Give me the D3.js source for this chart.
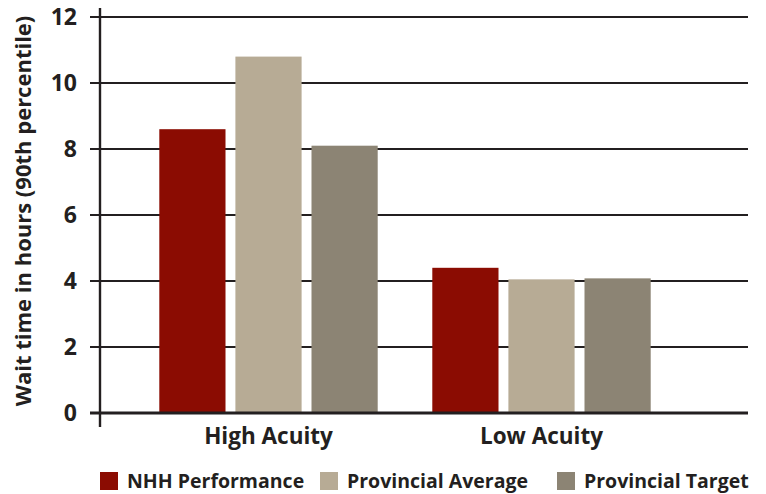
<!DOCTYPE html>
<html>
<head>
<meta charset="utf-8">
<script src="https://cdn.jsdelivr.net/npm/d3@7"></script>
<style>
  body { margin: 0; background: #fff; }
  text { font-family: "Open Sans", sans-serif; font-weight: 700; fill: #231f20; }
</style>
</head>
<body>
<div id="app"></div>
<script>
const categories = ["High Acuity", "Low Acuity"];
const seriesNames = ["NHH Performance", "Provincial Average", "Provincial Target"];
const nhhPerformance = [8.6, 4.4];
const provincialAverage = [10.8, 4.05];
const provincialTarget = [8.1, 4.08];
const yTicks = [0, 2, 4, 6, 8, 10, 12];
const colors = ["#8b0c02", "#b7ab95", "#8c8474"];

const width = 766;
const height = 494;

const dataset = categories.map((c, i) => ({
  category: c,
  values: [nhhPerformance[i], provincialAverage[i], provincialTarget[i]]
}));

const svg = d3
  .select("#app")
  .append("svg")
  .attr("width", width)
  .attr("height", height);

const xScale = d3
  .scaleBand()
  .domain(categories)
  .range([132, 678])
  .paddingInner(0.2)
  .paddingOuter(0.1);

const xInner = d3
  .scaleBand()
  .domain(seriesNames)
  .range([0, xScale.bandwidth()])
  .paddingInner(0.13);

const yScale = d3.scaleLinear().domain([0, 12]).range([413, 17]);

// gridlines + tick marks
svg
  .append("g")
  .selectAll("line")
  .data(yTicks.filter((d) => d !== 0))
  .enter()
  .append("line")
  .attr("x1", 90)
  .attr("x2", 748)
  .attr("y1", (d) => yScale(d))
  .attr("y2", (d) => yScale(d))
  .attr("stroke", "#231f20")
  .attr("stroke-width", 2.2);

// bars
svg
  .append("g")
  .selectAll("g")
  .data(dataset)
  .enter()
  .append("g")
  .attr("transform", (d) => `translate(${xScale(d.category)},0)`)
  .selectAll("rect")
  .data((d) => d.values.map((v, i) => ({ name: seriesNames[i], value: v, i })))
  .enter()
  .append("rect")
  .attr("x", (d) => xInner(d.name))
  .attr("y", (d) => yScale(d.value))
  .attr("width", xInner.bandwidth())
  .attr("height", (d) => yScale(0) - yScale(d.value))
  .attr("fill", (d) => colors[d.i]);

// baseline + y axis line
svg
  .append("line")
  .attr("x1", 90)
  .attr("x2", 748)
  .attr("y1", yScale(0))
  .attr("y2", yScale(0))
  .attr("stroke", "#231f20")
  .attr("stroke-width", 3);

svg
  .append("line")
  .attr("x1", 100)
  .attr("x2", 100)
  .attr("y1", 8)
  .attr("y2", 427)
  .attr("stroke", "#231f20")
  .attr("stroke-width", 2.4);

// tick labels
svg
  .append("g")
  .selectAll("text")
  .data(yTicks)
  .enter()
  .append("text")
  .text((d) => d)
  .attr("x", 77)
  .attr("y", (d) => yScale(d))
  .attr("dy", "0.36em")
  .attr("text-anchor", "end")
  .style("font-size", "23px");

// category labels
svg
  .append("g")
  .selectAll("text")
  .data(categories)
  .enter()
  .append("text")
  .text((d) => d)
  .attr("x", (d) => xScale(d) + xScale.bandwidth() / 2)
  .attr("y", 444)
  .attr("text-anchor", "middle")
  .style("font-size", "22.5px");

// y label
svg
  .append("text")
  .text("Wait time in hours (90th percentile)")
  .attr("transform", "translate(31,211) rotate(-90)")
  .attr("text-anchor", "middle")
  .style("font-size", "22px");

// legend
const legendX = [100, 320, 557];
const legend = svg.append("g").attr("id", "legend");

legend
  .selectAll("rect")
  .data(seriesNames)
  .enter()
  .append("rect")
  .attr("x", (d, i) => legendX[i])
  .attr("y", 472)
  .attr("width", 18)
  .attr("height", 18)
  .attr("fill", (d, i) => colors[i]);

legend
  .selectAll("text")
  .data(seriesNames)
  .enter()
  .append("text")
  .text((d) => d)
  .attr("x", (d, i) => legendX[i] + 27)
  .attr("y", 488)
  .style("font-size", "19.5px");
</script>
</body>
</html>
